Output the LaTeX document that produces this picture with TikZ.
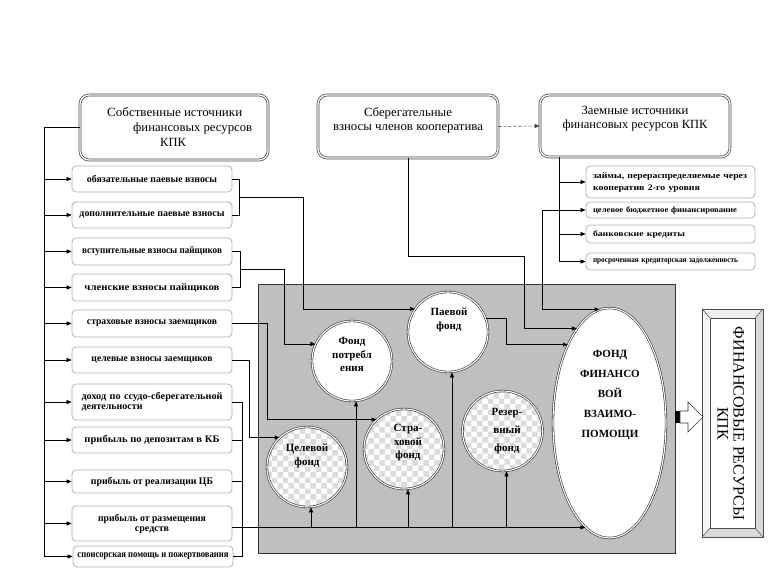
\documentclass[tikz,border=0pt]{standalone}
\usepackage{fontspec}
\setmainfont{Liberation Serif}
\usepackage{graphicx}
\usetikzlibrary{shapes.geometric,arrows.meta,patterns,calc}
\newcommand{\fw}[2]{\resizebox{#1pt}{\height}{#2}}
\begin{document}
\begin{tikzpicture}[x=1pt,y=-1pt,
  arr/.style={-{Triangle[length=5pt,width=4pt]}},
  ln/.style={draw=black,line width=0.6pt},
  topbox/.style={draw=gray!55!black,double=white,double distance=1.3pt,line width=0.7pt,rounded corners=9pt,fill=white,inner sep=0pt},
  ttext/.style={font=\fontsize{12}{14}\selectfont,align=center,inner sep=0pt},
  lbox/.style={draw=gray!60,line width=0.8pt,rounded corners=4pt,fill=white,inner sep=0pt,minimum width=160pt,align=center,font=\fontsize{10}{10}\selectfont\bfseries},
  rbox/.style={draw=gray!60,line width=0.8pt,rounded corners=4pt,fill=white,inner sep=0pt,minimum width=169pt,text width=155pt,align=left,font=\fontsize{8}{12}\selectfont\bfseries},
  fund/.style={circle,draw=black!80,double=white,double distance=1.1pt,line width=0.6pt,fill=white,minimum size=80pt,inner sep=0pt},
  chk/.style={preaction={fill=white},pattern=checkerboard,pattern color=gray!28},
  ctext/.style={font=\fontsize{11}{13.5}\selectfont\bfseries,align=center,inner sep=0pt},
]
\useasboundingbox (0,0) rectangle (768,572);
% grey field
\fill[gray!50] (258,284) rectangle (675,553);
\draw[black!80,line width=0.8pt] (258,284) rectangle (675,553);

% top boxes
\node[topbox,minimum width=188pt,minimum height=65pt] (sob) at (174,127.5) {};
\node[ttext,anchor=west,align=left,font=\fontsize{12.5}{15}\selectfont] (sobt) at (107,127) {\fw{135}{Собственные источники}\\\hspace*{26pt}\fw{119}{финансовых ресурсов}\\\hspace*{53pt}КПК};
\node[topbox,minimum width=180pt,minimum height=63pt] (sber) at (408,126.5) {};
\node[ttext,font=\fontsize{12.5}{14}\selectfont] (sbert) at (408,120) {\fw{88}{Сберегательные}\\\fw{150}{взносы членов кооператива}};
\node[topbox,minimum width=190pt,minimum height=62pt] (zaem) at (635,126) {};
\node[ttext,font=\fontsize{12.5}{13.5}\selectfont] (zaemt) at (635,118.5) {\fw{107}{Заемные источники}\\\fw{145}{финансовых ресурсов КПК}};

% left boxes
\node[lbox,minimum height=26pt] (b1) at (152,179) {\fw{130}{обязательные паевые взносы}};
\node[lbox,minimum height=26pt] (b2) at (152,215) {\fw{145}{дополнительные паевые взносы}};
\node[lbox,minimum height=27pt] (b3) at (152,251.5) {\fw{140}{вступительные взносы пайщиков}};
\node[lbox,minimum height=27pt] (b4) at (152,287.5) {\fw{135}{членские взносы пайщиков}};
\node[lbox,minimum height=27pt] (b5) at (152,323.5) {\fw{130}{страховые взносы заемщиков}};
\node[lbox,minimum height=26pt] (b6) at (152,360) {\fw{121}{целевые взносы заемщиков}};
\node[lbox,minimum height=36pt,text width=141pt,align=left] (b7) at (152,402) {\fw{141}{доход по ссудо-сберегательной}\\деятельности};
\node[lbox,minimum height=26pt] (b8) at (152,440) {\fw{135}{прибыль по депозитам в КБ}};
\node[lbox,minimum height=23pt] (b9) at (152,481.5) {\fw{122}{прибыль от реализации ЦБ}};
\node[lbox,minimum height=35pt] (b10) at (152,523.5) {\fw{108}{прибыль от размещения}\\средств};
\node[lbox,minimum height=21pt] (b11) at (153,556.5) {\fw{151}{спонсорская помощь и пожертвования}};

% right boxes
\node[rbox,minimum height=32pt,font=\fontsize{8.5}{12}\selectfont\bfseries] (r1) at (670.5,182) {\fw{154}{займы, перераспределяемые через}\\\fw{107}{кооператив 2-го уровня}};
\node[rbox,minimum height=16pt] (r2) at (670.5,210) {\fw{144}{целевое бюджетное финансирование}};
\node[rbox,minimum height=18pt] (r3) at (670.5,234) {\fw{92}{банковские кредиты}};
\node[rbox,minimum height=17pt] (r4) at (670.5,261.5) {\fw{145}{просроченная кредиторская задолженность}};

% funds
\node[fund] (potr) at (352,361) {};
\node[fund] (paev) at (448,332) {};
\node[fund,chk] (cel) at (307,467) {};
\node[fund,chk] (strah) at (404,449) {};
\node[fund,chk] (rez) at (502.5,431) {};
\node[ellipse,draw=black!80,double=white,double distance=1.1pt,line width=0.6pt,fill=white,minimum width=113pt,minimum height=230pt,inner sep=0pt] (ell) at (609.5,423) {};

\node[ctext] (potrt) at (352,354.5) {Фонд\\потребл\\ения};
\node[ctext] (paevt) at (449,320) {Паевой\\фонд};
\node[ctext] (celt) at (307,456) {Целевой\\фонд};
\node[ctext] (straht) at (408,443) {Стра-\\ховой\\фонд};
\node[ctext,font=\fontsize{11}{18}\selectfont\bfseries] (rezt) at (507,431) {Резер-\\вный\\фонд};
\node[ctext,font=\fontsize{11}{20}\selectfont\bfseries] (ellt) at (610,395) {ФОНД\\ФИНАНСО\\ВОЙ\\ВЗАИМО-\\ПОМОЩИ};

% final box
\draw[gray!60!black,fill=white,line width=0.7pt] (702,309) rectangle (763,537);
\fill[gray!12] (702,309) -- (763,309) -- (755,318) -- (710,318) -- cycle;
\fill[gray!30] (763,309) -- (763,537) -- (755,528) -- (755,318) -- cycle;
\fill[gray!30] (702,537) -- (763,537) -- (755,528) -- (710,528) -- cycle;
\fill[gray!8] (702,309) -- (702,537) -- (710,528) -- (710,318) -- cycle;
\draw[gray!60!black,line width=0.7pt] (702,309) rectangle (763,537);
\draw[gray!60!black,fill=white,line width=0.7pt] (710,318) rectangle (755,528);
\draw[gray!60!black,line width=0.5pt] (702,309) -- (710,318) (763,309) -- (755,318) (702,537) -- (710,528) (763,537) -- (755,528);
\node[font=\fontsize{16}{16}\selectfont,rotate=-90,align=center,inner sep=0pt] (fint) at (731,423.5) {\fw{193}{ФИНАНСОВЫЕ РЕСУРСЫ}\\КПК};

% block arrow
\fill[black] (675,411) rectangle (680,423);
\draw[black!80,fill=white,line width=0.6pt] (680,411) -- (688,411) -- (688,402) -- (703,417) -- (688,432) -- (688,423) -- (680,423) -- cycle;

% left trunk
\draw[ln] (sob.west) -- (44,0 |- sob.west) -- (44,0 |- b11.west);
\foreach \b in {b1,b2,b3,b4,b5,b6,b7,b8,b9,b10,b11}
  \draw[ln,arr] (44,0 |- \b.west) -- (\b.west);

% brackets and feeds
\draw[ln] (b1.east) -- ++(7,0) |- (b2.east);
\coordinate (ba) at ($(b1.east)!.5!(b2.east)+(7,0)$);
\draw[ln,arr] (ba) -| (303,0 |- paev.145) -- (paev.145);

\draw[ln] (b3.east) -- ++(8,0) |- (b4.east);
\coordinate (bb) at ($(b3.east)!.5!(b4.east)+(8,0)$);
\draw[ln,arr] (bb) -| (284,0 |- potr.155) -- (potr.155);

\draw[ln,arr] (b5.east) -| (267,0 |- strah.133) -- (strah.133);
\draw[ln,arr] (b6.east) -| (249,0 |- cel.133) -- (cel.133);

\draw[ln] (b7.east) -- (242,0 |- b7.east) -- (242,0 |- b11.east) -- (b11.east);
\foreach \b in {b8,b9}
  \draw[ln] (\b.east) -- (242,0 |- \b.east);
\coordinate (bl) at (b10.east |- ell.257);
\draw[ln,arr] (bl) -- (ell.257);
\foreach \c in {cel,potr,strah,paev,rez}{
  \coordinate (t\c) at ([xshift=4pt]\c.south);
  \draw[ln,arr] (t\c |- bl) -- (t\c);
}

\draw[ln,arr] (sber.south) |- (524,256) -- (524,0 |- ell.109) -- (ell.109);
\draw[ln,arr] (paev.20) -| (506,0 |- ell.118) -- (ell.118);
\draw[ln,{Triangle[length=5pt,width=4pt]}-{Triangle[length=5pt,width=4pt]}] (ell.95) -- (542,0 |- ell.95) |- (r2.west);

% borrowed sources
\coordinate (zb) at ([xshift=20pt]zaem.south west);
\draw[ln] (zb) -- (zb |- r4.west);
\foreach \r in {r1,r3,r4}
  \draw[ln,arr] (zb |- \r.west) -- (\r.west);
\draw[gray!60!black,line width=0.6pt,dash pattern=on 3pt off 2pt,arr] (sber.east) -- (zaem.west);
\end{tikzpicture}
\end{document}
